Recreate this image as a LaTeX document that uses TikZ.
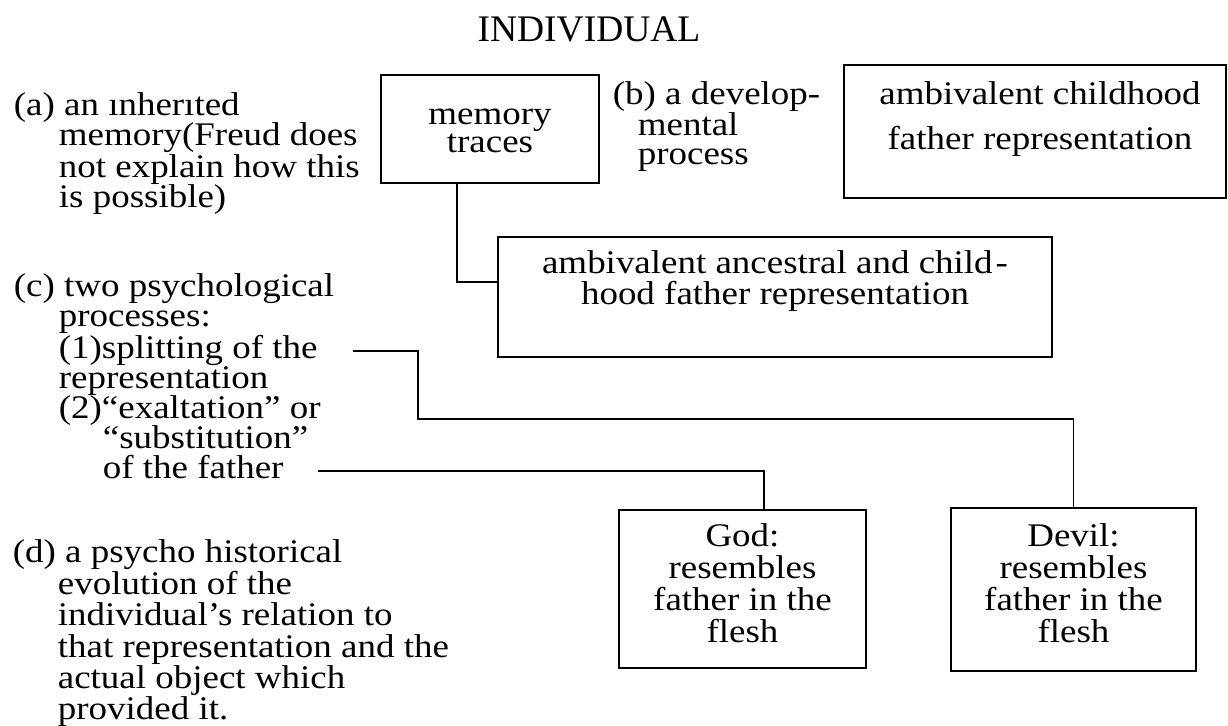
\documentclass[tikz,border=0pt]{standalone}
\usepackage{fontspec}
\setmainfont{Liberation Serif}[FakeStretch=1.12]
\newfontfamily\titlefont{Liberation Serif}
\newcommand{\contline}{\hspace*{22.5pt}}
\newcommand{\deepline}{\hspace*{44.5pt}}

\begin{document}
\begin{tikzpicture}[x=0.5pt, y=-0.5pt, line width=0.9pt,
    frame/.style={draw, rectangle, inner sep=0pt},
    note/.style={align=left, anchor=base west, inner sep=0pt, font=\fontsize{16.5}{15}\selectfont},
    boxtext/.style={align=center, anchor=base, inner sep=0pt, font=\fontsize{16.5}{#1}\selectfont}]
        \useasboundingbox (0,0) rectangle (1228,726);
        \clip (0,0) rectangle (1228,726);

        \node[anchor=base, inner sep=0pt, font={\titlefont\fontsize{18.75}{20}\selectfont}] (title) at (589,42) {INDIVIDUAL};

        % boxes (text anchored at the baseline of its last line)
        \node[frame, minimum width=109pt, minimum height=54pt] (mem) at (490,129) {};
        \node[boxtext=14] (memtext) at ([yshift=-39pt]mem.north) {memory\\traces};
        \node[frame, minimum width=191pt, minimum height=66.5pt] (chld) at (1035,131.5) {};
        \node[boxtext=22.5] (chldtext) at ([xshift=2.5pt,yshift=-42.5pt]chld.north) {ambivalent childhood\\father representation};
        \node[frame, minimum width=277pt, minimum height=60pt] (anc) at (775,297) {};
        \node[boxtext=15.5] (anctext) at ([yshift=-34pt]anc.north) {ambivalent ancestral and child\kern1.5pt-\\hood father representation};
        \node[frame, minimum width=123.5pt, minimum height=79pt] (god) at (742.5,589) {};
        \node[boxtext=16] (godtext) at ([yshift=-66.5pt]god.north) {God:\\resembles\\father in the\\flesh};
        \node[frame, minimum width=122.5pt, minimum height=81.5pt] (devil) at (1073.5,589.5) {};
        \node[boxtext=16] (deviltext) at ([yshift=-67.5pt]devil.north) {Devil:\\resembles\\father in the\\flesh};

        % side notes
        \node[note] (nota) at (13,208) {(a) an ınherıted\\\contline memory(Freud does\\\contline not explain how this\\\contline is possible)};
        \node[note, font=\fontsize{16.5}{14.5}\selectfont] (notb) at (612,165) {(b) a develop-\\\hspace*{12.5pt}mental\\\hspace*{12.5pt}process};
        \node[note] (notc) at (13,479) {(c) two psychological\\\contline processes:\\\contline (1)splitting of the\\\contline representation\\\contline (2)“exaltation” or\\\deepline “substitution”\\\deepline of the father};
        \node[note, font=\fontsize{16.5}{15.7}\selectfont] (notd) at (12,720) {(d) a psycho historical\\\contline evolution of the\\\contline individual’s relation to\\\contline that representation and the\\\contline actual object which\\\contline provided it.};

        % connectors
        \coordinate (splitend) at (353,351);
        \coordinate (exaltend) at (318,471);
        \draw ([xshift=38.5pt]mem.south west) |- ([yshift=7.5pt]anc.west);
        \draw (splitend) -| ++(32.5pt,-34pt) -| (devil.north);
        \draw (exaltend) -| ([xshift=10.75pt]god.north);
    \end{tikzpicture}
\end{document}
